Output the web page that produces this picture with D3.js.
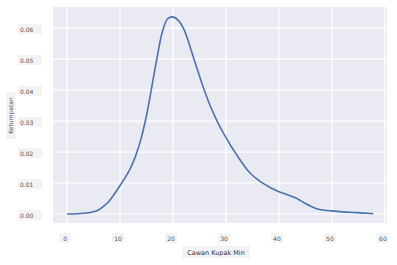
<!DOCTYPE html>
<html>
<head>
<meta charset="utf-8">
<script src="https://cdn.jsdelivr.net/npm/d3@7"></script>
<style>
  body { margin: 0; background: #fff; }
  svg { font-family: "DejaVu Sans", sans-serif; }
</style>
</head>
<body>
<svg width="397" height="265"></svg>
<script>
// density curve
const xs = [0, 2, 4, 5, 6, 7, 8, 9, 10, 11, 12, 13, 14, 15, 16, 17, 18, 19, 20, 21, 22, 23, 24, 25, 26, 27, 28, 29, 30, 31, 32, 33, 34, 35, 36, 37, 38, 39, 40, 41, 42, 43, 44, 45, 46, 47, 48, 50, 52, 54, 56, 57.8];
const ys = [0.0000, 0.0001, 0.0004, 0.0007, 0.0014, 0.0026, 0.0043, 0.0066, 0.0092, 0.0118, 0.0149, 0.0190, 0.0245, 0.0318, 0.0410, 0.0505, 0.0588, 0.0630, 0.0636, 0.0625, 0.0598, 0.0552, 0.0498, 0.0445, 0.0395, 0.0350, 0.0312, 0.0277, 0.0247, 0.0218, 0.0192, 0.0166, 0.0143, 0.0125, 0.0111, 0.0099, 0.0089, 0.0080, 0.0072, 0.0066, 0.0060, 0.0053, 0.0044, 0.0034, 0.0025, 0.0018, 0.0014, 0.0010, 0.0007, 0.0005, 0.0003, 0.0001];
const xTicks = [0, 10, 20, 30, 40, 50, 60];
const yTicks = [0, 0.01, 0.02, 0.03, 0.04, 0.05, 0.06];
const xLabel = "Cawan Kupak Min";
const yLabel = "Ketumpatan";

const svg = d3.select("svg");
const plot = { left: 53, right: 387, top: 7, bottom: 223 };

const x = d3.scaleLinear().domain([-2.65, 60.4]).range([plot.left, plot.right]);
const y = d3.scaleLinear().domain([-0.0029, 0.0668]).range([plot.bottom, plot.top]);

svg.append("rect")
  .attr("x", plot.left).attr("y", plot.top)
  .attr("width", plot.right - plot.left).attr("height", plot.bottom - plot.top)
  .attr("fill", "#eaeaf2");

// grid
svg.append("g").selectAll("line").data(xTicks).join("line")
  .attr("x1", d => x(d)).attr("x2", d => x(d))
  .attr("y1", plot.top).attr("y2", plot.bottom)
  .attr("stroke", "#fff").attr("stroke-width", 1.2);
svg.append("g").selectAll("line").data(yTicks).join("line")
  .attr("x1", plot.left).attr("x2", plot.right)
  .attr("y1", d => y(d)).attr("y2", d => y(d))
  .attr("stroke", "#fff").attr("stroke-width", 1.2);

// y tick labels with light boxes
const yt = svg.append("g").selectAll("g").data(yTicks).join("g")
  .attr("transform", d => `translate(18,${y(d)})`);
yt.append("rect").attr("x", 0).attr("y", -4).attr("width", 24).attr("height", 10).attr("fill", "#f3f3f3");
yt.append("text").attr("x", 2).attr("y", 4)
  .attr("font-size", 6).attr("fill", "#555")
  .text(d => d.toFixed(2));

// x tick labels
const xt = svg.append("g").selectAll("g").data(xTicks).join("g")
  .attr("transform", d => `translate(${x(d) - 2},238)`);
xt.append("rect").attr("x", -6).attr("y", -5).attr("width", 12).attr("height", 10).attr("fill", "#f3f3f3");
xt.append("text").attr("y", 2.5).attr("text-anchor", "middle")
  .attr("font-size", 6).attr("fill", "#555")
  .text(d => d);

// axis titles
svg.append("rect").attr("x", 182).attr("y", 246).attr("width", 68).attr("height", 12).attr("fill", "#f3f3f3");
svg.append("text").attr("x", 216).attr("y", 254.5).attr("text-anchor", "middle")
  .attr("font-size", 6.5).attr("fill", "#333").text(xLabel);

svg.append("rect").attr("x", 6).attr("y", 92).attr("width", 10).attr("height", 47).attr("fill", "#f3f3f3");
svg.append("text").attr("transform", "translate(13,115.5) rotate(-90)")
  .attr("text-anchor", "middle").attr("font-size", 6).attr("fill", "#555").text(yLabel);

// curve
const line = d3.line().x((d, i) => x(xs[i])).y(d => y(d)).curve(d3.curveCatmullRom.alpha(0.5));
svg.append("path").datum(ys)
  .attr("d", line)
  .attr("fill", "none").attr("stroke", "#4c72b0").attr("stroke-width", 1.6);
</script>
</body>
</html>
